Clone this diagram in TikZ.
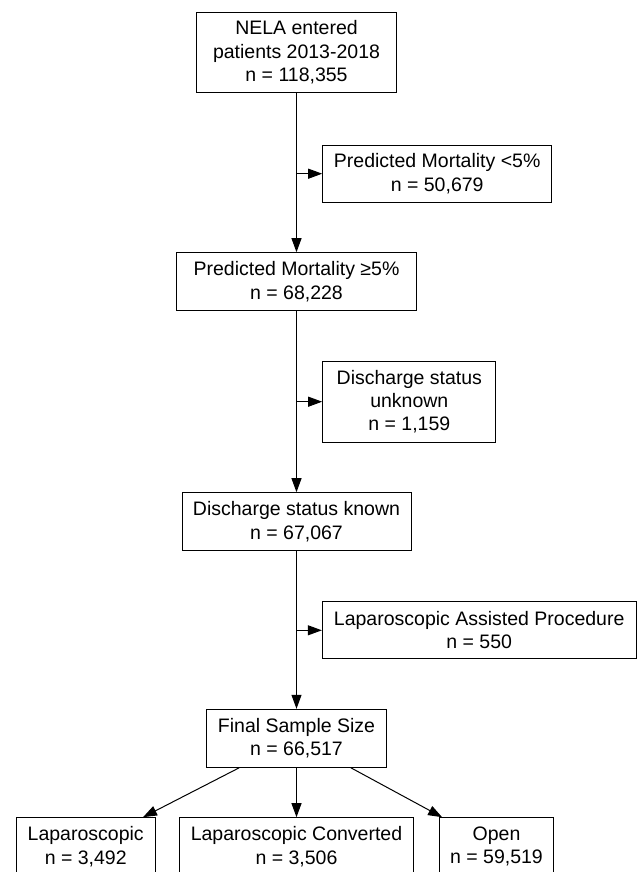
\documentclass[tikz,border=0pt]{standalone}
\usepackage{fontspec}
\setmainfont{Liberation Sans}
\usetikzlibrary{arrows.meta}
\begin{document}
\begin{tikzpicture}[x=1pt,y=-1pt,
  box/.style={draw,line width=1pt,inner sep=0pt,align=center,
    font=\fontsize{19.5}{23.4}\selectfont},
  conn/.style={line width=1pt,-{Triangle[length=14pt,width=10pt]}}]
\useasboundingbox (0,0) rectangle (637,872);
\clip (0,0) rectangle (637,872);
\node[box,minimum width=199.3pt,minimum height=79.6pt] (b1) at (296.5,52.5) {NELA entered\\patients 2013-2018\\n = 118,355};
\node[box,minimum width=229pt,minimum height=57.3pt] (b2) at (437.2,173.7) {Predicted Mortality <5\%\\n = 50,679};
\node[box,minimum width=240pt,minimum height=58pt] (b3) at (296.5,281.7) {Predicted Mortality ≥5\%\\n = 68,228};
\node[box,minimum width=173.3pt,minimum height=81.3pt] (b4) at (409.3,401.7) {Discharge status\\unknown\\n = 1,159};
\node[box,minimum width=229pt,minimum height=58pt] (b5) at (296.5,521.7) {Discharge status known\\n = 67,067};
\node[box,minimum width=313.7pt,minimum height=57.3pt] (b6) at (479.2,630.3) {Laparoscopic Assisted Procedure\\n = 550};
\node[box,minimum width=179.3pt,minimum height=58pt] (b7) at (296.5,738.3) {Final Sample Size\\n = 66,517};
\node[box,minimum width=139.3pt,minimum height=58pt] (b8) at (85.7,846.7) {Laparoscopic\\n = 3,492};
\node[box,minimum width=233.7pt,minimum height=58pt] (b9) at (296.5,846.7) {Laparoscopic Converted\\n = 3,506};
\node[box,minimum width=114.4pt,minimum height=58pt] (b10) at (496.5,846.7) {Open\\n = 59,519};
\coordinate (c1) at (296.5,173.7);
\coordinate (c2) at (296.5,401.7);
\coordinate (c3) at (296.5,630.3);
\draw[conn] (b1) -- (b3);
\draw[conn] (c1) -- (b2);
\draw[conn] (b3) -- (b5);
\draw[conn] (c2) -- (b4);
\draw[conn] (b5) -- (b7);
\draw[conn] (c3) -- (b6);
\draw[conn] (b7) -- (b8);
\draw[conn] (b7) -- (b9);
\draw[conn] (b7) -- (b10);
\end{tikzpicture}
\end{document}
